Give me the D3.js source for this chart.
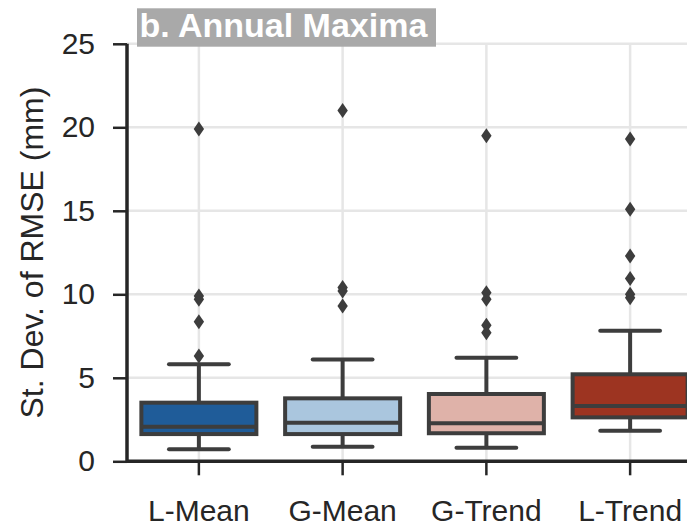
<!DOCTYPE html>
<html>
<head>
<meta charset="utf-8">
<script src="https://cdn.jsdelivr.net/npm/d3@7"></script>
<style>
  html, body { margin: 0; padding: 0; background: #fff; }
  svg { display: block; }
  text { font-family: "Liberation Sans", Arial, sans-serif; }
</style>
</head>
<body>
<svg id="chart" width="687" height="527"></svg>
<script>
// ---- data ----
const categories = ["L-Mean", "G-Mean", "G-Trend", "L-Trend"];
const whiskerLow  = [0.72, 0.87, 0.81, 1.83];
const q1          = [1.63, 1.63, 1.68, 2.63];
const median      = [2.07, 2.31, 2.28, 3.31];
const q3          = [3.51, 3.77, 4.03, 5.21];
const whiskerHigh = [5.81, 6.10, 6.20, 7.82];
const outliers = [
  [19.9, 9.9, 9.7, 8.35, 6.3],
  [21.0, 10.4, 10.2, 9.3],
  [19.5, 10.1, 9.7, 8.15, 7.7],
  [19.3, 15.1, 12.3, 10.95, 10.0, 9.8]
];
const fills = ["#1f5c99", "#aac6de", "#dfb2a9", "#9d3421"];
const yTicks = [0, 5, 10, 15, 20, 25];
const titleText = "b. Annual Maxima";
const yLabel = "St. Dev. of RMSE (mm)";

// ---- layout ----
const svg = d3.select("#chart");
const mLeft = 127, mRight = 702, mTop = 43.8, mBottom = 461.3;
const ink = "#3d3d3d", axisInk = "#262626";

const x = d3.scaleBand().domain(categories).range([mLeft, mRight]).padding(0);
const y = d3.scaleLinear().domain([0, 25]).range([mBottom, mTop]);

// grid
const grid = svg.append("g");
grid.selectAll("line.h").data(yTicks).join("line")
  .attr("class", "h")
  .attr("x1", mLeft).attr("x2", mRight)
  .attr("y1", d => y(d)).attr("y2", d => y(d))
  .attr("stroke", "#e6e6e6").attr("stroke-width", 2.5);
grid.selectAll("line.v").data(categories).join("line")
  .attr("class", "v")
  .attr("x1", d => x(d) + x.bandwidth() / 2).attr("x2", d => x(d) + x.bandwidth() / 2)
  .attr("y1", mTop).attr("y2", mBottom)
  .attr("stroke", "#e6e6e6").attr("stroke-width", 2.5);

// boxes
const bw = x.bandwidth() * 0.8;
const capW = bw * 0.52;
const groups = svg.append("g").selectAll("g").data(categories).join("g")
  .attr("transform", d => `translate(${x(d) + x.bandwidth() / 2},0)`);

groups.append("line")
  .attr("x1", 0).attr("x2", 0)
  .attr("y1", (d, i) => y(whiskerLow[i])).attr("y2", (d, i) => y(q1[i]))
  .attr("stroke", ink).attr("stroke-width", 4);
groups.append("line")
  .attr("x1", 0).attr("x2", 0)
  .attr("y1", (d, i) => y(q3[i])).attr("y2", (d, i) => y(whiskerHigh[i]))
  .attr("stroke", ink).attr("stroke-width", 4);
groups.append("line")
  .attr("x1", -capW / 2).attr("x2", capW / 2)
  .attr("y1", (d, i) => y(whiskerLow[i])).attr("y2", (d, i) => y(whiskerLow[i]))
  .attr("stroke", ink).attr("stroke-width", 4).attr("stroke-linecap", "round");
groups.append("line")
  .attr("x1", -capW / 2).attr("x2", capW / 2)
  .attr("y1", (d, i) => y(whiskerHigh[i])).attr("y2", (d, i) => y(whiskerHigh[i]))
  .attr("stroke", ink).attr("stroke-width", 4).attr("stroke-linecap", "round");
groups.append("rect")
  .attr("x", -bw / 2).attr("width", bw)
  .attr("y", (d, i) => y(q3[i])).attr("height", (d, i) => y(q1[i]) - y(q3[i]))
  .attr("fill", (d, i) => fills[i]).attr("stroke", ink).attr("stroke-width", 4);
groups.append("line")
  .attr("x1", -bw / 2).attr("x2", bw / 2)
  .attr("y1", (d, i) => y(median[i])).attr("y2", (d, i) => y(median[i]))
  .attr("stroke", ink).attr("stroke-width", 4);

const diamond = "M0,-7.5L5.2,0L0,7.5L-5.2,0Z";
groups.each(function (d, i) {
  d3.select(this).selectAll("path.out").data(outliers[i]).join("path")
    .attr("class", "out")
    .attr("d", diamond)
    .attr("transform", v => `translate(0,${y(v)})`)
    .attr("fill", ink);
});

// axes
const yAxis = svg.append("g").attr("transform", `translate(${mLeft},0)`)
  .call(d3.axisLeft(y).tickValues(yTicks).tickSize(14).tickPadding(18));
const xAxis = svg.append("g").attr("transform", `translate(0,${mBottom})`)
  .call(d3.axisBottom(x).tickSize(14).tickPadding(24));
[yAxis, xAxis].forEach(a => {
  a.select(".domain").attr("stroke", axisInk).attr("stroke-width", 3.5);
  a.selectAll(".tick line").attr("stroke", axisInk).attr("stroke-width", 2.5);
  a.selectAll(".tick text").attr("fill", axisInk)
    .style("font-size", "30px").style("font-family", '"Liberation Sans", Arial, sans-serif');
});
yAxis.select(".domain").attr("d", `M0,${mTop}V${mBottom}`);
xAxis.select(".domain").attr("d", `M${mLeft},0H${mRight}`);

// y label
svg.append("text")
  .attr("transform", `translate(43,${(mTop + mBottom) / 2}) rotate(-90)`)
  .attr("text-anchor", "middle")
  .attr("fill", axisInk)
  .style("font-size", "32px")
  .text(yLabel);

// title
svg.append("rect").attr("x", 137).attr("y", 8.3).attr("width", 299).attr("height", 38.4)
  .attr("fill", "#a9a9a9");
svg.append("text").attr("x", 139.5).attr("y", 36.7)
  .attr("fill", "#fff").style("font-size", "34px").style("font-weight", "bold")
  .text(titleText);
</script>
</body>
</html>
